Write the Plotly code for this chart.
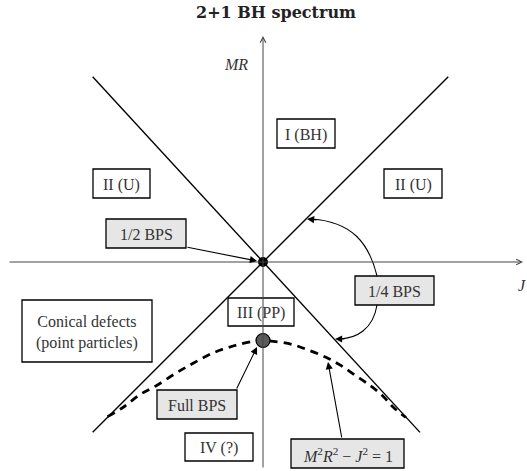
import plotly.graph_objects as go

# ---- data (J, MR) ----
line_a_J = [-2.17, 2.00]
line_a_MR = [2.36, -2.17]
line_b_J = [-2.17, 2.36]
line_b_MR = [-2.17, 2.36]

hyp_J = [-1.98, -1.78, -1.57, -1.35, -1.10, -0.89, -0.64, -0.38, -0.13, 0.0,
         0.13, 0.37, 0.60, 0.815, 0.98, 1.17, 1.36, 1.52, 1.66, 1.82]
hyp_MR = [-1.97, -1.85, -1.69, -1.57, -1.41, -1.29, -1.16, -1.07, -1.01, -1.0,
          -1.01, -1.05, -1.13, -1.22, -1.31, -1.44, -1.57, -1.70, -1.85, -1.98]

half_bps_J = [0.0]
half_bps_MR = [0.0]
full_bps_J = [0.0]
full_bps_MR = [-1.0]

W, H = 527, 471
OX, OY, S = 263, 262, 78.5

def px(x):
    return x / W

def py(y):
    return 1 - y / H

fig = go.Figure()

for xs, ys in [(line_a_J, line_a_MR), (line_b_J, line_b_MR)]:
    fig.add_trace(go.Scatter(x=xs, y=ys, mode="lines",
                             line=dict(color="black", width=1.4),
                             hoverinfo="skip", showlegend=False))

fig.add_trace(go.Scatter(x=hyp_J, y=hyp_MR, mode="lines",
                         line=dict(color="black", width=2.8, dash="8px,6px", shape="spline"),
                         hoverinfo="skip", showlegend=False))

fig.add_trace(go.Scatter(x=half_bps_J, y=half_bps_MR, mode="markers",
                         marker=dict(size=10, color="black"),
                         hoverinfo="skip", showlegend=False))
fig.add_trace(go.Scatter(x=full_bps_J, y=full_bps_MR, mode="markers",
                         marker=dict(size=14, color="#5a5a5a", line=dict(color="black", width=1.2)),
                         hoverinfo="skip", showlegend=False))

TXT = "#333333"
SERIF = "Liberation Serif"

boxes = [
    ("I (BH)", (277, 119, 335, 148), "white"),
    ("II (U)", (384, 169, 442, 198), "white"),
    ("II (U)", (93, 169, 150, 198), "white"),
    ("1/2 BPS", (106, 219, 186, 248), "#e6e6e6"),
    ("1/4 BPS", (355, 276, 434, 305), "#e6e6e6"),
    ("III (PP)", (228, 298, 294, 326), "rgba(0,0,0,0)"),
    ("Conical defects<br>(point particles)", (22, 300, 152, 362), "white"),
    ("Full BPS", (157, 390, 237, 419), "#e6e6e6"),
    ("IV (?)", (185, 433, 253, 461), "white"),
    ("<i>M</i><sup>2</sup><i>R</i><sup>2</sup> − <i>J</i><sup>2</sup> = 1", (291, 439, 404, 468), "#e6e6e6"),
]

shapes = []
annotations = []
for text, (x0, y0, x1, y1), fill in boxes:
    shapes.append(dict(type="rect", xref="paper", yref="paper",
                       x0=px(x0), x1=px(x1), y0=py(y1), y1=py(y0),
                       line=dict(color="black", width=1.3), fillcolor=fill, layer="above"))
    annotations.append(dict(xref="paper", yref="paper", x=px((x0 + x1) / 2), y=py((y0 + y1) / 2 + 1),
                            text=text, showarrow=False, xanchor="center", yanchor="middle",
                            font=dict(family=SERIF, size=16, color=TXT)))

# curved arrows for 1/4 BPS
def P(x, y):
    return f"{px(x)},{py(y)}"

shapes.append(dict(type="path", xref="paper", yref="paper",
                   path=f"M{P(377,276)} C{P(369,243)} {P(352,222)} {P(312,219)}",
                   line=dict(color="black", width=1.1)))
shapes.append(dict(type="path", xref="paper", yref="paper",
                   path=f"M{P(377,305)} C{P(373,330)} {P(356,338)} {P(340,339)}",
                   line=dict(color="black", width=1.1)))

def arrow(tipx, tipy, tailx, taily, head=2, size=1.3, width=1.1, color="black"):
    annotations.append(dict(xref="paper", yref="paper", x=px(tipx), y=py(tipy),
                            ax=tailx - tipx, ay=taily - tipy, axref="pixel", ayref="pixel",
                            text="", showarrow=True, arrowhead=head, arrowsize=size,
                            arrowwidth=width, arrowcolor=color, standoff=0))

# axes
arrow(523, 262, 8, 262, head=5, size=1.1, width=1.0, color="#444444")
arrow(263, 36, 263, 469, head=5, size=1.1, width=1.0, color="#444444")

# pointer arrows
arrow(257, 261, 186, 247)
arrow(257, 347, 236, 390)
arrow(328, 362, 342, 439)
arrow(307, 219, 318, 220)
arrow(335, 339, 346, 339)

# titles / axis labels
annotations.append(dict(xref="paper", yref="paper", x=px(276), y=py(13), text="<b>2+1 BH spectrum</b>",
                        showarrow=False, xanchor="center", yanchor="middle",
                        font=dict(family="DejaVu Serif", size=16, color="#222222")))
annotations.append(dict(xref="paper", yref="paper", x=px(236), y=py(65), text="<i>MR</i>",
                        showarrow=False, xanchor="center", yanchor="middle",
                        font=dict(family=SERIF, size=16, color=TXT)))
annotations.append(dict(xref="paper", yref="paper", x=px(522), y=py(285), text="<i>J</i>",
                        showarrow=False, xanchor="center", yanchor="middle",
                        font=dict(family=SERIF, size=16, color=TXT)))

fig.update_layout(
    width=W, height=H, margin=dict(l=0, r=0, t=0, b=0),
    paper_bgcolor="white", plot_bgcolor="white",
    shapes=shapes, annotations=annotations, showlegend=False,
)
fig.update_xaxes(visible=False, range=[-OX / S, (W - OX) / S], fixedrange=True)
fig.update_yaxes(visible=False, range=[(OY - H) / S, OY / S], fixedrange=True)

fig.write_html("out.html", config={"displayModeBar": False},
               post_script="document.body.style.margin='0';document.body.style.overflow='hidden';")
